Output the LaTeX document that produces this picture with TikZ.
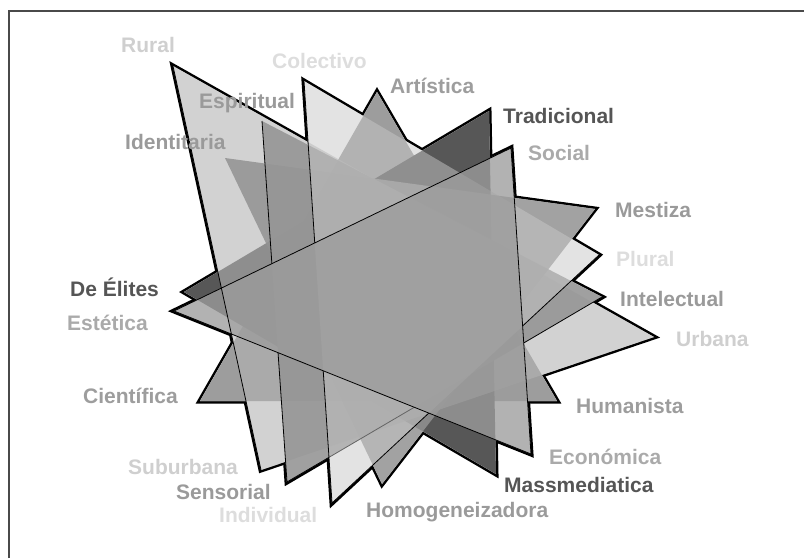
\documentclass[tikz,border=0pt]{standalone}
\usepackage{fontspec}
\setmainfont{Liberation Sans}

\definecolor{marco}{HTML}{4A4A4A}
% tonos de los rotulos
\definecolor{tonoA}{HTML}{CFCFCF}
\definecolor{tonoB}{HTML}{DDDDDD}
\definecolor{tonoC}{HTML}{9D9D9D}
\definecolor{tonoD}{HTML}{555555}
\definecolor{tonoE}{HTML}{AAAAAA}
\definecolor{tonoF}{HTML}{9A9A9A}
\definecolor{tonoG}{HTML}{9A9A9A}
% rellenos
\definecolor{rellA}{HTML}{B4B4B4}
\definecolor{rellB}{HTML}{C8C8C8}
\definecolor{rellC}{HTML}{9D9D9D}
\definecolor{rellD}{HTML}{575757}
\definecolor{rellE}{HTML}{9C9C9C}
\definecolor{rellF}{HTML}{969696}
\definecolor{rellG}{HTML}{929292}

\begin{document}
\begin{tikzpicture}[x=1pt,y=-1pt,
        rotulo/.style={anchor=base west,inner sep=0pt,font=\bfseries\fontsize{21}{25}\selectfont},
        silueta/.style={line width=5pt,line join=miter},
        arista/.style={line width=0.8pt}]
        \useasboundingbox (0,0) rectangle (804,558);
        \draw[line width=1.6pt,marco] (9,558) -- (9,11) -- (804,11);

        % vertices
        \coordinate (Rural)           at (173,66);
        \coordinate (Urbana)          at (654,337);
        \coordinate (Suburbana)       at (261,470);
        \coordinate (Colectivo)       at (304,81);
        \coordinate (Plural)          at (599,255);
        \coordinate (Individual)      at (332,503);
        \coordinate (Artistica)       at (377,92);
        \coordinate (Humanista)       at (557,401);
        \coordinate (Cientifica)      at (200,401);
        \coordinate (Tradicional)     at (489,111);
        \coordinate (Massmediatica)   at (496,474);
        \coordinate (Elites)          at (184,292);
        \coordinate (Social)          at (511,148);
        \coordinate (Economica)       at (531,454);
        \coordinate (Estetica)        at (174,311);
        \coordinate (Espiritual)      at (262,121);
        \coordinate (Intelectual)     at (602,297);
        \coordinate (Sensorial)       at (287,482);
        \coordinate (Identitaria)     at (225,158);
        \coordinate (Mestiza)         at (595,209);
        \coordinate (Homogeneizadora) at (382,484);

        % contorno exterior
        \foreach \a/\b/\c in {Rural/Urbana/Suburbana, Colectivo/Plural/Individual,
                Artistica/Humanista/Cientifica, Tradicional/Massmediatica/Elites,
                Social/Economica/Estetica, Espiritual/Intelectual/Sensorial,
                Identitaria/Mestiza/Homogeneizadora}
            \draw[silueta] (\a) -- (\b) -- (\c) -- cycle;
        \foreach \a/\b/\c in {Rural/Urbana/Suburbana, Colectivo/Plural/Individual,
                Artistica/Humanista/Cientifica, Tradicional/Massmediatica/Elites,
                Social/Economica/Estetica, Espiritual/Intelectual/Sensorial,
                Identitaria/Mestiza/Homogeneizadora}
            \fill[white] (\a) -- (\b) -- (\c) -- cycle;

        % triangulos
        \fill[rellC] (Artistica) -- (Humanista) -- (Cientifica) -- cycle;
        \fill[rellD] (Tradicional) -- (Massmediatica) -- (Elites) -- cycle;
        \fill[rellA,fill opacity=0.6] (Rural) -- (Urbana) -- (Suburbana) -- cycle;
        \fill[rellG,fill opacity=0.85] (Identitaria) -- (Mestiza) -- (Homogeneizadora) -- cycle;
        \fill[rellF,fill opacity=0.9] (Espiritual) -- (Intelectual) -- (Sensorial) -- cycle;
        \begin{scope}
            \clip (0,0) -- (804,0) -- (804,558) -- (0,558) -- cycle
                  (Social) -- (Estetica) -- (Economica) -- cycle;
            \draw[arista] (Espiritual) -- (Sensorial) -- (Intelectual);
        \end{scope}
        \fill[rellB,fill opacity=0.5] (Colectivo) -- (Plural) -- (Individual) -- cycle;
        \begin{scope}
            \clip (0,0) -- (804,0) -- (804,558) -- (0,558) -- cycle
                  (Social) -- (Estetica) -- (Economica) -- cycle;
            \draw[arista] (Colectivo) -- (Individual) -- (Plural);
        \end{scope}
        \fill[rellE,fill opacity=0.77] (Social) -- (Economica) -- (Estetica) -- cycle;
        \draw[arista] (Social) -- (Economica) -- (Estetica) -- cycle;
        \draw[arista] (Rural) -- (Suburbana);

        % rotulos
        \node[rotulo,text=tonoA] (lRural)           at (121,52.7)  {Rural};
        \node[rotulo,text=tonoB] (lColectivo)       at (272,68.3)  {Colectivo};
        \node[rotulo,text=tonoF] (lEspiritual)      at (199,108.3) {Espiritual};
        \node[rotulo,text=tonoG] (lIdentitaria)     at (125,149.3) {Identitaria};
        \node[rotulo,text=tonoC] (lArtistica)       at (390,93.3)  {Artística};
        \node[rotulo,text=tonoD] (lTradicional)     at (503,123.3) {Tradicional};
        \node[rotulo,text=tonoE] (lSocial)          at (528,160)   {Social};
        \node[rotulo,text=tonoG] (lMestiza)         at (615,217.3) {Mestiza};
        \node[rotulo,text=tonoB] (lPlural)          at (616,266)   {Plural};
        \node[rotulo,text=tonoF] (lIntelectual)     at (620,306.7) {Intelectual};
        \node[rotulo,text=tonoA] (lUrbana)          at (676,346.7) {Urbana};
        \node[rotulo,text=tonoC] (lHumanista)       at (576,413.3) {Humanista};
        \node[rotulo,text=tonoE] (lEconomica)       at (549,464)   {Económica};
        \node[rotulo,text=tonoD] (lMassmediatica)   at (504,492.7) {Massmediatica};
        \node[rotulo,text=tonoG] (lHomogeneizadora) at (366,517)   {Homogeneizadora};
        \node[rotulo,text=tonoB] (lIndividual)      at (219,522.7) {Individual};
        \node[rotulo,text=tonoF] (lSensorial)       at (176,499.3) {Sensorial};
        \node[rotulo,text=tonoA] (lSuburbana)       at (128,474)   {Suburbana};
        \node[rotulo,text=tonoC] (lCientifica)      at (83,403.3)  {Científica};
        \node[rotulo,text=tonoE] (lEstetica)        at (67,330)    {Estética};
        \node[rotulo,text=tonoD] (lElites)          at (70,296.7)  {De Élites};
\end{tikzpicture}
\end{document}
